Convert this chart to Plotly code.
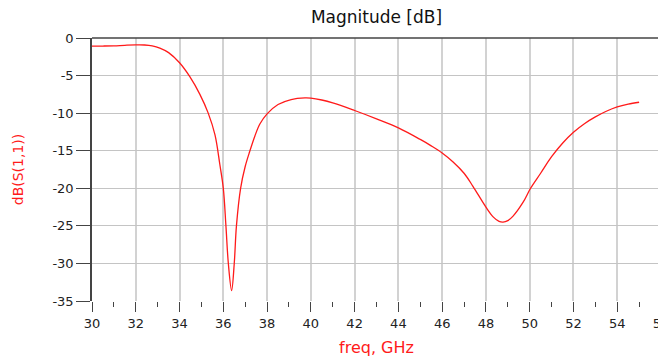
import plotly.graph_objects as go

# Frequency (GHz) and dB(S(1,1))
freq = [30.0, 30.5, 31.0, 31.5, 32.0, 32.4, 32.75, 33.1, 33.5, 34.0, 34.47, 34.93, 35.31,
        35.62, 35.84, 36.0, 36.12, 36.23, 36.38, 36.5, 36.6, 36.79, 37.0, 37.21, 37.44,
        37.67, 38.0, 38.5, 39.1, 39.73, 40.0, 40.5, 41.0, 42.0, 43.0, 44.0, 45.0, 45.5,
        46.0, 46.5, 47.0, 47.4, 48.0, 48.33, 48.6, 48.78, 49.0, 49.24, 49.7, 50.04, 50.5,
        51.0, 51.5, 52.0, 52.5, 53.0, 53.5, 54.0, 54.5, 55.0]
s11_db = [-1.09, -1.07, -1.04, -0.97, -0.92, -0.93, -1.05, -1.35, -1.95, -3.3, -5.15, -7.5,
          -10.0, -12.9, -16.8, -20.0, -25.0, -30.0, -33.6, -30.0, -25.0, -20.0, -17.1,
          -15.07, -13.07, -11.45, -10.1, -8.85, -8.19, -7.97, -8.0, -8.25, -8.63, -9.65,
          -10.76, -11.96, -13.5, -14.35, -15.3, -16.5, -18.0, -19.7, -22.5, -23.8, -24.4,
          -24.5, -24.3, -23.7, -21.85, -20.0, -18.0, -15.8, -14.0, -12.54, -11.4, -10.5,
          -9.75, -9.17, -8.8, -8.55]

x_ticks = [30, 32, 34, 36, 38, 40, 42, 44, 46, 48, 50, 52, 54, 56]
y_ticks = [0, -5, -10, -15, -20, -25, -30, -35]

FONT = "DejaVu Sans"
AXIS = "#444444"
RED = "#ff1a1a"

fig = go.Figure()
fig.add_trace(go.Scatter(
    x=freq, y=s11_db, mode="lines",
    line=dict(color=RED, width=1.3, shape="spline", smoothing=1.0),
    showlegend=False, hoverinfo="x+y",
))

# The page body adds an 8px offset, so the figure is 8px smaller and margins shifted.
fig.update_layout(
    width=658, height=352,
    margin=dict(l=84, r=5, t=30, b=59),
    paper_bgcolor="white", plot_bgcolor="white",
    font=dict(family=FONT, size=13, color="#222222"),
    title=dict(text="Magnitude [dB]", xref="paper", x=0.5, xanchor="center",
               yref="container", y=1 - 3 / 352, yanchor="top",
               font=dict(family=FONT, size=17, color="#111111")),
    xaxis=dict(
        range=[30, 56], tickmode="array", tickvals=x_ticks,
        ticktext=[str(v) for v in x_ticks], automargin=False,
        ticklabeloverflow="allow",
        showgrid=True, gridcolor="#d2d2d2", gridwidth=1.6,
        zeroline=False, showline=False,
        ticks="outside", ticklen=10, tickwidth=1.3, tickcolor=AXIS,
        minor=dict(dtick=1, ticks="outside", ticklen=5, tickwidth=1,
                   tickcolor=AXIS, showgrid=False),
        tickfont=dict(family=FONT, size=13, color="#222222"),
        title=dict(text="freq, GHz", standoff=12,
                   font=dict(family=FONT, size=16, color=RED)),
    ),
    yaxis=dict(
        range=[-35, 0], tickmode="array", tickvals=y_ticks,
        ticktext=[str(v) for v in y_ticks], automargin=False,
        showgrid=True, gridcolor="#c4c4c4", gridwidth=1.2,
        zeroline=False, showline=True, linecolor=AXIS, linewidth=1.5,
        mirror=True,
        ticks="outside", ticklen=14, tickwidth=1.3, tickcolor=AXIS,
        tickfont=dict(family=FONT, size=13, color="#222222"),
        title=dict(text="dB(S(1,1))", standoff=26,
                   font=dict(family=FONT, size=14, color=RED)),
    ),
    shapes=[dict(type="line", xref="paper", yref="paper", x0=0, x1=1, y0=1, y1=1,
                 line=dict(color=AXIS, width=1.5))],
)

fig.write_html("out.html")
